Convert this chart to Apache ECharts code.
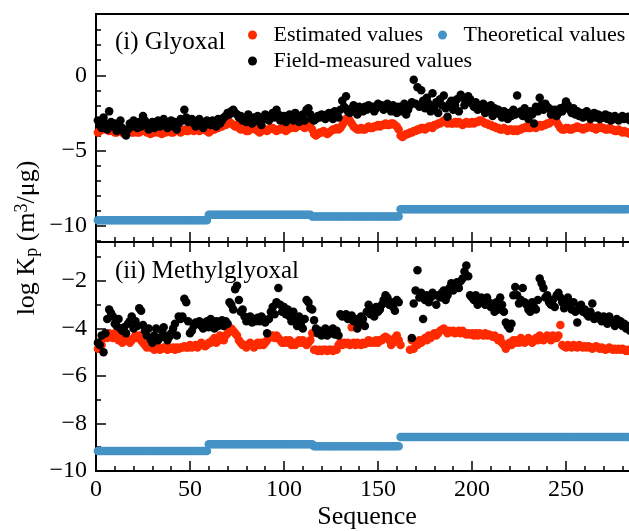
<!DOCTYPE html>
<html>
<head>
<meta charset="utf-8">
<script src="https://cdn.jsdelivr.net/npm/echarts@6/dist/echarts.min.js"></script>
<style>
  html, body { margin: 0; padding: 0; background: #fff; }
  #chart { width: 629px; height: 531px; }
</style>
</head>
<body>
<div id="chart"></div>
<script>
// ---- Data: log Kp per sequence number (sequence starts at 1) ----

// (i) Glyoxal
const glyEstimated = [
  -3.8,-3.7,-3.6,-3.6,-3.5,-3.6,-3.7,-3.6,-3.7,-3.8,-3.8,-3.7,-3.7,-3.8,-3.9,-3.8,-3.8,-3.7,-3.8,-3.8,
  -3.7,-3.8,-3.8,-3.7,-3.6,-3.7,-3.8,-3.8,-3.9,-3.8,-3.8,-3.7,-3.8,-3.8,-3.9,-3.8,-3.8,-3.7,-3.7,-3.8,
  -3.8,-3.7,-3.6,-3.7,-3.8,-3.7,-3.6,-3.7,-3.7,-3.6,-3.6,-3.7,-3.6,-3.6,-3.7,-3.5,-3.6,-3.6,-3.7,-3.8,
  -3.7,-3.6,-3.6,-3.5,-3.5,-3.4,-3.4,-3.3,-3.3,-3.2,-3.1,-3.2,-3.3,-3.4,-3.3,-3.5,-3.6,-3.5,-3.6,-3.7,
  -3.7,-3.6,-3.5,-3.5,-3.6,-3.7,-3.8,-3.7,-3.6,-3.6,-3.7,-3.6,-3.5,-3.5,-3.6,-3.7,-3.6,-3.6,-3.5,-3.6,
  -3.7,-3.6,-3.5,-3.5,-3.4,-3.5,-3.4,-3.3,-3.3,-3.4,-3.5,-3.3,-3.2,-3.4,-3.6,-3.9,-4.0,-3.9,-3.8,-3.8,
  -3.7,-3.8,-3.9,-3.8,-3.7,-3.6,-3.6,-3.5,-3.6,-3.5,-3.3,-3.1,-2.9,-2.8,-3.0,-3.2,-3.4,-3.5,-3.6,-3.6,
  -3.5,-3.6,-3.6,-3.5,-3.4,-3.5,-3.5,-3.4,-3.4,-3.3,-3.4,-3.3,-3.3,-3.2,-3.3,-3.3,-3.2,-3.2,-3.3,-3.4,
  -3.6,-4.0,-4.1,-4.0,-3.9,-3.9,-3.8,-3.8,-3.7,-3.7,-3.6,-3.6,-3.5,-3.5,-3.6,-3.5,-3.4,-3.4,-3.5,-3.3,
  -3.3,-3.2,-3.2,-3.1,-3.0,-3.1,-3.2,-3.1,-3.2,-3.2,-3.1,-3.2,-3.1,-3.2,-3.3,-3.2,-3.1,-3.2,-3.2,-3.1,
  -3.2,-3.1,-3.1,-3.0,-3.0,-3.1,-3.2,-3.2,-3.3,-3.3,-3.4,-3.4,-3.5,-3.5,-3.6,-3.6,-3.5,-3.6,-3.7,-3.6,
  -3.6,-3.7,-3.6,-3.7,-3.6,-3.6,-3.5,-3.5,-3.4,-3.5,-3.5,-3.4,-3.4,-3.5,-3.4,-3.3,-3.4,-3.3,-3.3,-3.2,
  -3.2,-3.1,-3.0,-3.0,-3.1,-3.3,-3.5,-3.6,-3.6,-3.5,-3.5,-3.6,-3.6,-3.5,-3.5,-3.4,-3.5,-3.5,-3.6,-3.5,
  -3.5,-3.4,-3.4,-3.5,-3.5,-3.6,-3.5,-3.4,-3.5,-3.5,-3.6,-3.6,-3.5,-3.6,-3.6,-3.7,-3.7,-3.6,-3.7,-3.8,
  -3.7,-3.8,-3.8,-3.9
];
const glyField = [
  -3.0,-3.3,-3.5,-2.8,-3.2,-3.6,-2.4,-3.1,-3.4,-3.2,-3.7,-3.3,-3.0,-3.5,-3.8,-4.0,-3.6,-3.2,-3.4,-3.0,
  -3.3,-3.5,-3.1,-3.4,-2.7,-3.0,-3.2,-3.6,-3.3,-3.1,-3.5,-3.2,-3.0,-3.4,-3.2,-2.9,-3.3,-3.5,-3.1,-3.0,
  -3.4,-3.1,-3.6,-3.2,-2.9,-3.0,-2.3,-2.8,-3.1,-3.0,-2.9,-3.2,-3.4,-3.0,-2.9,-3.1,-3.5,-3.3,-3.0,-3.2,
  -3.3,-3.0,-3.1,-3.4,-2.9,-3.2,-3.0,-2.8,-2.7,-2.5,-2.6,-2.4,-2.3,-2.5,-2.6,-2.8,-2.7,-3.0,-2.9,-3.1,
  -2.6,-2.9,-3.2,-2.8,-3.0,-2.7,-3.1,-3.3,-2.9,-2.6,-2.9,-3.0,-2.7,-2.5,-2.8,-2.3,-2.6,-3.0,-2.8,-2.7,
  -3.1,-2.8,-2.6,-2.9,-3.0,-2.5,-2.8,-3.1,-2.7,-2.6,-3.0,-2.3,-2.2,-2.6,-2.9,-3.0,-2.9,-2.7,-2.8,-2.6,
  -2.7,-2.9,-2.6,-2.5,-2.7,-2.9,-2.4,-2.6,-2.8,-2.3,-1.7,-2.1,-1.4,-2.4,-2.5,-2.2,-2.0,-2.3,-2.6,-2.1,
  -2.2,-2.4,-2.1,-2.3,-2.0,-2.2,-2.1,-2.4,-2.2,-1.9,-2.1,-2.0,-2.3,-2.1,-1.9,-2.2,-2.4,-2.0,-2.3,-2.5,
  -2.1,-2.4,-2.2,-1.9,-2.6,-2.3,-2.0,-1.8,-0.3,-1.9,-0.8,-2.1,-1.0,-1.7,-2.2,-1.5,-1.9,-2.4,-1.2,-2.1,
  -1.8,-2.5,-1.6,-2.0,-1.35,-2.2,-2.75,-1.9,-1.7,-2.3,-2.0,-1.6,-2.4,-1.3,-1.5,-2.0,-1.8,-1.4,-1.6,-1.9,
  -2.1,-1.8,-2.3,-2.0,-2.2,-1.9,-2.5,-2.1,-2.4,-2.0,-2.7,-2.2,-2.5,-2.3,-2.6,-2.8,-2.4,-2.6,-2.9,-2.5,
  -2.7,-2.3,-2.6,-1.35,-2.5,-2.4,-2.7,-2.2,-2.5,-2.9,-2.4,-2.6,-3.2,-2.1,-2.4,-1.5,-2.0,-2.3,-1.9,-2.1,
  -2.2,-2.6,-2.4,-2.3,-2.7,-2.5,-2.2,-2.4,-2.1,-1.75,-2.0,-2.3,-2.5,-2.2,-2.6,-2.4,-2.7,-2.5,-2.8,-2.6,
  -2.4,-2.7,-2.9,-2.6,-2.5,-2.8,-2.6,-2.9,-2.7,-2.8,-2.6,-2.9,-2.7,-3.0,-2.8,-2.7,-2.9,-3.0,-2.8,-2.7,
  -2.9,-2.8,-2.75,-3.0
];
// Theoretical values stay constant within blocks: [block length, value]
const glyTheoreticalRuns = [[59, -9.63], [55, -9.27], [47, -9.38], [123, -8.9]];

// (ii) Methylglyoxal
const mgEstimated = [
  -4.85,-4.8,-4.7,-4.4,-4.3,-4.4,-4.2,-4.3,-4.4,-4.2,-4.3,-4.5,-4.4,-4.6,-4.5,-4.4,-4.5,-4.6,-4.5,-4.4,
  -4.3,-4.4,-4.3,-4.5,-4.6,-4.7,-4.8,-4.7,-4.8,-4.8,-4.9,-4.8,-4.8,-4.9,-4.85,-4.8,-4.8,-4.9,-4.8,-4.85,
  -4.8,-4.9,-4.8,-4.85,-4.8,-4.8,-4.75,-4.8,-4.8,-4.7,-4.8,-4.75,-4.7,-4.8,-4.7,-4.6,-4.7,-4.75,-4.7,-4.6,
  -4.6,-4.5,-4.4,-4.6,-4.5,-4.3,-4.4,-4.5,-4.3,-4.2,-4.1,-4.0,-4.1,-4.2,-4.3,-4.5,-4.6,-4.7,-4.7,-4.8,
  -4.7,-4.6,-4.7,-4.8,-4.7,-4.6,-4.7,-4.6,-4.7,-4.6,-4.5,-4.4,-4.3,-4.3,-4.4,-4.3,-4.4,-4.5,-4.6,-4.6,
  -4.5,-4.6,-4.5,-4.7,-4.6,-4.7,-4.6,-4.5,-4.6,-4.5,-4.6,-4.7,-4.6,-4.5,-4.2,-4.9,-4.9,-4.95,-4.9,-4.95,
  -4.9,-4.9,-4.95,-4.9,-4.9,-4.95,-4.9,-4.9,-4.7,-4.6,-4.7,-4.6,-4.65,-4.6,-4.7,-3.95,-4.6,-4.7,-4.6,-4.65,
  -4.7,-4.6,-4.65,-4.6,-4.5,-4.6,-4.55,-4.6,-4.5,-4.6,-4.5,-4.5,-4.4,-4.35,-4.4,-4.5,-4.7,-4.6,-4.4,-4.3,
  -4.5,-4.7,null,null,null,null,-4.9,-4.5,-4.85,-4.6,-4.7,-4.5,-4.6,-4.5,-4.4,-4.5,-4.3,-4.4,-4.3,-4.2,
  -4.3,-4.2,-4.1,-4.05,-4.0,-4.1,-4.2,-4.1,-4.15,-4.1,-4.2,-4.15,-4.1,-4.2,-4.1,-4.2,-4.25,-4.2,-4.25,-4.2,
  -4.3,-4.2,-4.3,-4.2,-4.25,-4.3,-4.2,-4.3,-4.25,-4.3,-4.35,-4.3,-4.4,-4.5,-4.4,-4.6,-4.7,-4.85,-4.7,-4.6,
  -4.7,-4.5,-4.6,-4.5,-4.6,-4.4,-4.5,-4.6,-4.5,-4.4,-4.5,-4.6,-4.5,-4.4,-4.5,-4.3,-4.4,-4.5,-4.4,-4.3,
  -4.4,-4.5,-4.3,-4.4,-4.4,-4.3,-3.85,-4.7,-4.75,-4.8,-4.7,-4.75,-4.8,-4.7,-4.75,-4.8,-4.7,-4.75,-4.8,-4.75,
  -4.8,-4.75,-4.8,-4.85,-4.8,-4.75,-4.8,-4.85,-4.8,-4.85,-4.9,-4.85,-4.8,-4.85,-4.9,-4.85,-4.9,-4.85,-4.9,-4.85,
  -4.9,-4.95,-4.9,-4.95
];
const mgField = [
  -4.6,-4.7,-4.3,-5.0,-4.2,-3.6,-3.2,-3.35,-3.5,-3.8,-3.9,-3.6,-4.0,-4.1,-3.95,-4.2,-3.8,-3.7,-3.5,-4.0,
  -3.7,-3.9,-3.15,-3.25,-3.85,-4.1,-4.3,-4.0,-4.45,-4.6,-4.3,-4.0,-4.5,-4.4,-4.1,-3.95,-4.3,-4.5,-4.35,-4.2,
  -4.0,-3.8,-4.3,-3.5,-3.6,-3.5,-2.75,-2.9,-3.7,-4.2,-4.1,-3.9,-3.75,-3.8,-3.7,-3.9,-4.0,-3.8,-3.7,-3.95,
  -3.6,-3.8,-4.0,-3.7,-3.9,-3.8,-3.65,-3.9,-3.7,-3.8,-2.9,-3.0,-3.2,-2.35,-2.2,-2.8,-3.3,-3.2,-3.5,-3.7,
  -3.6,-3.5,-3.75,-3.6,-3.7,-3.55,-3.7,-3.5,-3.6,-3.75,-4.2,-3.6,-3.3,-3.1,-3.4,-2.9,-2.3,-3.0,-3.3,-3.1,
  -3.4,-3.2,-3.5,-3.7,-3.3,-3.6,-3.9,-3.5,-3.8,-4.0,-3.6,-2.8,-2.9,-3.15,-3.2,-3.65,-4.0,-4.2,-4.1,-4.3,
  -4.2,-4.0,-4.3,-4.1,-4.2,-4.0,-4.25,-4.1,-4.3,-3.4,-3.5,-3.45,-3.4,-3.6,-3.5,-3.45,-3.7,-3.6,-4.0,-3.8,
  -3.5,-3.6,-3.9,-3.3,-3.0,-3.4,-3.2,-3.5,-3.1,-3.3,-3.2,-3.0,-2.8,-2.6,-2.7,-3.0,-2.9,-3.1,-3.25,-2.8,
  -2.9,null,null,null,null,null,null,-4.4,-2.95,-2.4,-1.55,-2.7,-2.5,-3.6,-2.8,-2.6,-2.9,-2.7,-2.5,-2.6,
  -3.0,-2.6,-2.7,-2.5,-2.4,-2.8,-2.6,-2.3,-2.1,-2.4,-2.2,-2.05,-2.3,-2.0,-1.9,-1.6,-1.35,-1.8,-2.6,-2.7,
  -2.8,-2.6,-3.0,-2.9,-2.7,-2.8,-3.0,-2.7,-2.9,-3.1,-3.0,-3.3,-2.9,-3.2,-2.7,-3.0,-3.3,-3.75,-3.9,-4.0,
  -3.8,-2.6,-2.25,-2.6,-2.95,-2.8,-2.3,-2.9,-3.0,-3.2,-3.3,-2.9,-3.1,-3.2,-2.8,-1.9,-2.1,-2.3,-2.7,-2.6,
  -2.9,-3.0,-2.8,-3.1,-2.6,-2.5,-2.7,-2.9,-3.15,-2.8,-2.7,-3.0,-3.2,-2.9,-3.3,-3.75,-3.1,-3.0,-3.3,-3.2,
  -3.4,-3.5,-3.3,-2.95,-3.6,-3.5,-3.45,-3.6,-3.7,-3.5,-3.6,-3.8,-3.5,-3.65,-3.7,-3.9,-3.6,-3.8,-3.7,-3.9,
  -3.8,-4.0,-3.9,-4.1
];
const mgTheoreticalRuns = [[59, -9.16], [56, -8.87], [46, -8.96], [123, -8.57]];

// ---- Axis ticks ----
const seqLabelTicks = [0, 50, 100, 150, 200, 250];
const glyMajorTicks = [-10, -5, 0];
const glyMinorTicks = [-11, -9, -8, -7, -6, -4, -3, -2, -1, 1, 2, 3];
const mgMajorTicks = [-10, -8, -6, -4, -2];
const mgMinorTicks = [-9, -7, -5, -3, -1];

// ---- Series names and colours ----
const NAME_EST = 'Estimated values';
const NAME_THEO = 'Theoretical values';
const NAME_FIELD = 'Field-measured values';
const COLOR_EST = '#ff2a00';
const COLOR_THEO = '#4592c6';
const COLOR_FIELD = '#000000';

const SERIF = 'Liberation Serif, Times New Roman, serif';

// pair each value with its sequence number
function toPoints(values) {
  return values.map((v, i) => [i + 1, v]);
}
function expandRuns(runs) {
  const out = [];
  runs.forEach(([len, v]) => { for (let k = 0; k < len; k++) out.push(v); });
  return out;
}
const minusFmt = v => String(v).replace('-', '\u2212');

const chart = echarts.init(document.getElementById('chart'), null, { renderer: 'canvas' });

// the sequence axis runs past the right edge of the page (0–300 over 564 px)
const gridCommon = {
  left: 96, width: 564, show: true, borderColor: '#000', borderWidth: 2,
  backgroundColor: 'transparent', containLabel: false, outerBoundsMode: 'none'
};

function seqAxis(gridIndex, position, withLabels) {
  return {
    type: 'value', gridIndex, position,
    min: 0, max: 300, interval: 50,
    axisLine: { show: false, onZero: false },
    axisTick: { show: true, inside: true, length: 10, lineStyle: { color: '#000', width: 1.5 } },
    minorTick: { show: true, splitNumber: 5, length: 5, lineStyle: { color: '#000', width: 1.5 } },
    splitLine: { show: false },
    axisLabel: {
      show: withLabels, margin: 7, color: '#000', fontFamily: SERIF, fontSize: 24,
      customValues: seqLabelTicks,
      formatter: minusFmt
    }
  };
}
function valueAxis(gridIndex, min, max, ticks, length, withLabels) {
  return {
    type: 'value', gridIndex, position: 'left', min, max,
    axisLine: { show: false, onZero: false },
    axisTick: { show: true, inside: true, length, customValues: ticks, lineStyle: { color: '#000', width: 1.5 } },
    splitLine: { show: false },
    axisLabel: {
      show: withLabels, margin: 9, color: '#000', fontFamily: SERIF, fontSize: 24,
      customValues: ticks, formatter: minusFmt
    }
  };
}

function scatter(name, color, xAxisIndex, yAxisIndex, values) {
  return {
    type: 'scatter', name, xAxisIndex, yAxisIndex,
    symbol: 'circle', symbolSize: 8.5,
    itemStyle: { color, opacity: 1 },
    emphasis: { disabled: true },
    data: toPoints(values)
  };
}

function legendAt(left, top, name) {
  return {
    left, top, data: [name], icon: 'circle', itemWidth: 32, itemHeight: 9,
    textStyle: { fontFamily: SERIF, fontSize: 22, color: '#000' },
    selectedMode: false, padding: 0
  };
}

const option = {
  animation: false,
  backgroundColor: '#fff',
  grid: [
    Object.assign({ top: 14, height: 228 }, gridCommon),
    Object.assign({ top: 242, height: 229 }, gridCommon)
  ],
  xAxis: [
    seqAxis(0, 'bottom', false),
    seqAxis(1, 'bottom', true),
    seqAxis(1, 'top', false)
  ],
  yAxis: [
    valueAxis(0, -11.08, 4.07, glyMajorTicks, 10, true),
    valueAxis(0, -11.08, 4.07, glyMinorTicks, 5, false),
    valueAxis(1, -10, -0.36, mgMajorTicks, 10, true),
    valueAxis(1, -10, -0.36, mgMinorTicks, 5, false)
  ],
  legend: [
    legendAt(248, 24, NAME_EST),
    legendAt(438, 24, NAME_THEO),
    legendAt(248, 50, NAME_FIELD)
  ],
  series: [
    scatter(NAME_EST, COLOR_EST, 0, 0, glyEstimated),
    scatter(NAME_THEO, COLOR_THEO, 0, 0, expandRuns(glyTheoreticalRuns)),
    scatter(NAME_FIELD, COLOR_FIELD, 0, 0, glyField),
    scatter(NAME_EST, COLOR_EST, 1, 2, mgEstimated),
    scatter(NAME_THEO, COLOR_THEO, 1, 2, expandRuns(mgTheoreticalRuns)),
    scatter(NAME_FIELD, COLOR_FIELD, 1, 2, mgField)
  ],
  graphic: [
    {
      type: 'text', left: 115, top: 30, silent: true,
      style: { text: '(i) Glyoxal', font: '25px ' + SERIF, fill: '#000' }
    },
    {
      type: 'text', left: 115, top: 259, silent: true,
      style: { text: '(ii) Methylglyoxal', font: '25px ' + SERIF, fill: '#000' }
    },
    {
      type: 'text', x: 367, y: 517, silent: true,
      style: { text: 'Sequence', font: '26px ' + SERIF, fill: '#000', align: 'center', verticalAlign: 'middle' }
    },
    {
      type: 'text', x: 27, y: 238, rotation: Math.PI / 2, silent: true,
      style: {
        text: '{n|log K}{sub|p}{n| (m}{sup|3}{n|/μg)}',
        align: 'center', verticalAlign: 'middle', fill: '#000',
        rich: {
          n: { fontFamily: SERIF, fontSize: 26, lineHeight: 36, fill: '#000' },
          sub: { fontFamily: SERIF, fontSize: 18, lineHeight: 26, padding: [10, 0, 0, 0], fill: '#000' },
          sup: { fontFamily: SERIF, fontSize: 18, lineHeight: 26, padding: [0, 0, 10, 0], fill: '#000' }
        }
      }
    }
  ]
};

chart.setOption(option);
</script>
</body>
</html>
